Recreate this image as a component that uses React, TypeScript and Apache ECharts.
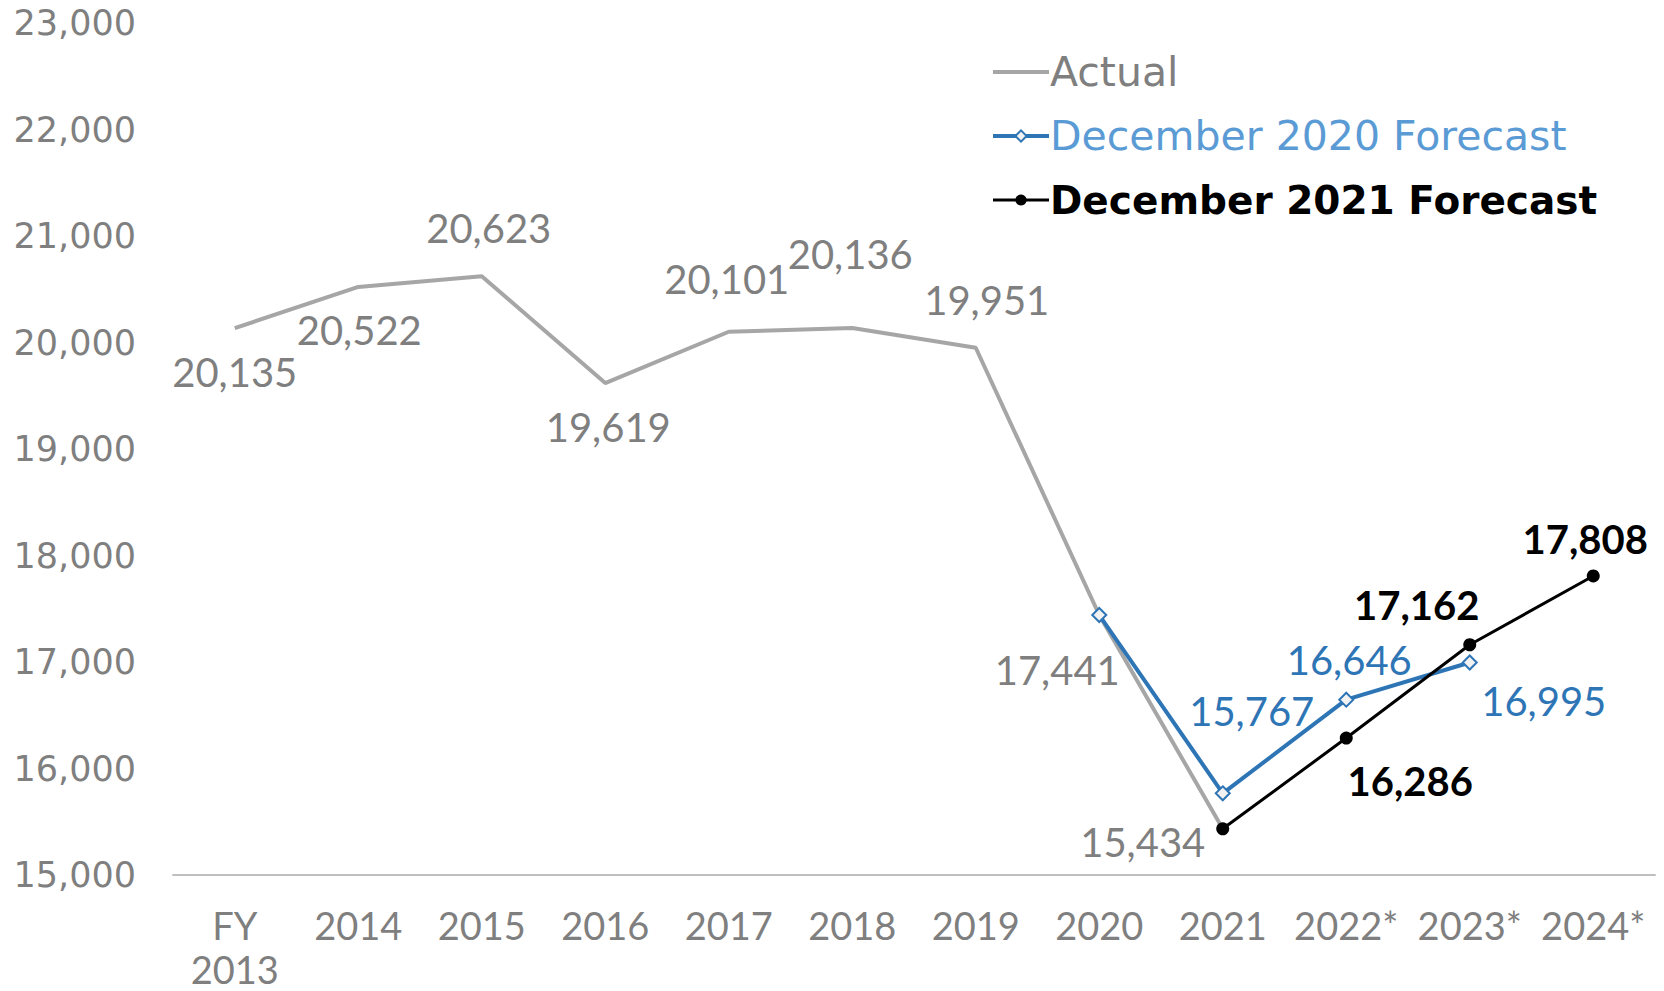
import React, { useEffect, useRef } from "react";
import * as echarts from "echarts";

const categories = ["FY\n2013", "2014", "2015", "2016", "2017", "2018", "2019", "2020", "2021", "2022*", "2023*", "2024*"];
const actual = [20135, 20522, 20623, 19619, 20101, 20136, 19951, 17441, 15434, null, null, null];
const dec2020 = [null, null, null, null, null, null, null, 17441, 15767, 16646, 16995, null];
const dec2021 = [null, null, null, null, null, null, null, null, 15434, 16286, 17162, 17808];
const yTicks = { min: 15000, max: 23000, interval: 1000 };

// label offsets (px) relative to point center; null = no label
const actualOffsets: ([number, number] | null)[] = [
  [0, 44], [1, 43], [7, -48], [3, 44], [-2, -53], [-2, -74], [11, -48], [-42, 55], [-80, 13], null, null, null,
];
const dec2020Offsets: ([number, number] | null)[] = [
  null, null, null, null, null, null, null, null, [29, -82], [3, -40], [74, 38], null,
];
const dec2021Offsets: ([number, number] | null)[] = [
  null, null, null, null, null, null, null, null, null, [64, 43], [-53, -40], [-8, -37],
];

const fmt = (v: number) => v.toLocaleString("en-US");

function build(values: (number | null)[], offsets: ([number, number] | null)[]) {
  return values.map((v, i) => {
    if (v === null) return null;
    const o = offsets[i];
    return o ? { value: v, label: { show: true, offset: o } } : { value: v, label: { show: false } };
  });
}

export default function App() {
  const ref = useRef<HTMLDivElement>(null);
  useEffect(() => {
    if (!ref.current) return;
    const chart = echarts.init(ref.current, undefined, { renderer: "svg" });
    const labelBase = {
      show: true,
      position: "inside",
      fontFamily: "Lato",
      fontSize: 40,
      formatter: (p: any) => fmt(p.value),
    };
    chart.setOption({
      animation: false,
      backgroundColor: "#ffffff",
      grid: { left: 173, right: 9, top: 23, bottom: 110, containLabel: false },
      legend: {
        orient: "vertical",
        left: 986,
        top: 42,
        itemWidth: 56,
        itemHeight: 14,
        itemGap: 14,
        textStyle: { fontFamily: "DejaVu Sans", fontSize: 41, lineHeight: 50, padding: [0, 0, 0, -4] },
        data: [
          {
            name: "Actual",
            textStyle: { color: "#7f7f7f" },
            itemStyle: { color: "rgba(0,0,0,0)", borderWidth: 0 },
            lineStyle: { width: 4, color: "#a6a6a6" },
          },
          { name: "December 2020 Forecast", textStyle: { color: "#5b9bd5" }, lineStyle: { width: 4, color: "#2e75b6" } },
          {
            name: "December 2021 Forecast",
            textStyle: { color: "#000000", fontWeight: "bold", fontSize: 39 },
            lineStyle: { width: 3, color: "#000000" },
          },
        ],
      },
      xAxis: {
        type: "category",
        data: categories,
        axisLine: { lineStyle: { color: "#bfbfbf", width: 2 } },
        axisTick: { show: false },
        axisLabel: { color: "#7f7f7f", fontFamily: "Lato", fontSize: 38, margin: 28, lineHeight: 44, interval: 0 },
      },
      yAxis: {
        type: "value",
        min: yTicks.min,
        max: yTicks.max,
        interval: yTicks.interval,
        splitLine: { show: false },
        axisLine: { show: false },
        axisTick: { show: false },
        axisLabel: {
          color: "#7f7f7f",
          fontFamily: "DejaVu Sans",
          fontSize: 35,
          margin: 37,
          formatter: (v: number) => fmt(v),
        },
      },
      series: [
        {
          name: "Actual",
          type: "line",
          data: build(actual, actualOffsets),
          symbol: "circle",
          symbolSize: 2,
          showSymbol: true,
          showAllSymbol: true,
          lineStyle: { color: "#a6a6a6", width: 4 },
          itemStyle: { color: "rgba(0,0,0,0)", borderWidth: 0 },
          label: { ...labelBase, color: "#7f7f7f" },
          z: 2,
        },
        {
          name: "December 2020 Forecast",
          type: "line",
          data: build(dec2020, dec2020Offsets),
          symbol: "diamond",
          symbolSize: 14,
          showAllSymbol: true,
          lineStyle: { color: "#2e75b6", width: 4 },
          itemStyle: { color: "#f2f2f2", borderColor: "#2e75b6", borderWidth: 2 },
          label: { ...labelBase, color: "#2e75b6" },
          z: 3,
        },
        {
          name: "December 2021 Forecast",
          type: "line",
          data: build(dec2021, dec2021Offsets),
          symbol: "circle",
          symbolSize: 13,
          showAllSymbol: true,
          lineStyle: { color: "#000000", width: 3 },
          itemStyle: { color: "#000000" },
          label: { ...labelBase, color: "#000000", fontWeight: "bold" },
          z: 4,
        },
      ],
    });
    return () => chart.dispose();
  }, []);
  return <div ref={ref} style={{ width: 1664, height: 991, position: "absolute", left: 0, top: 0 }} />;
}
